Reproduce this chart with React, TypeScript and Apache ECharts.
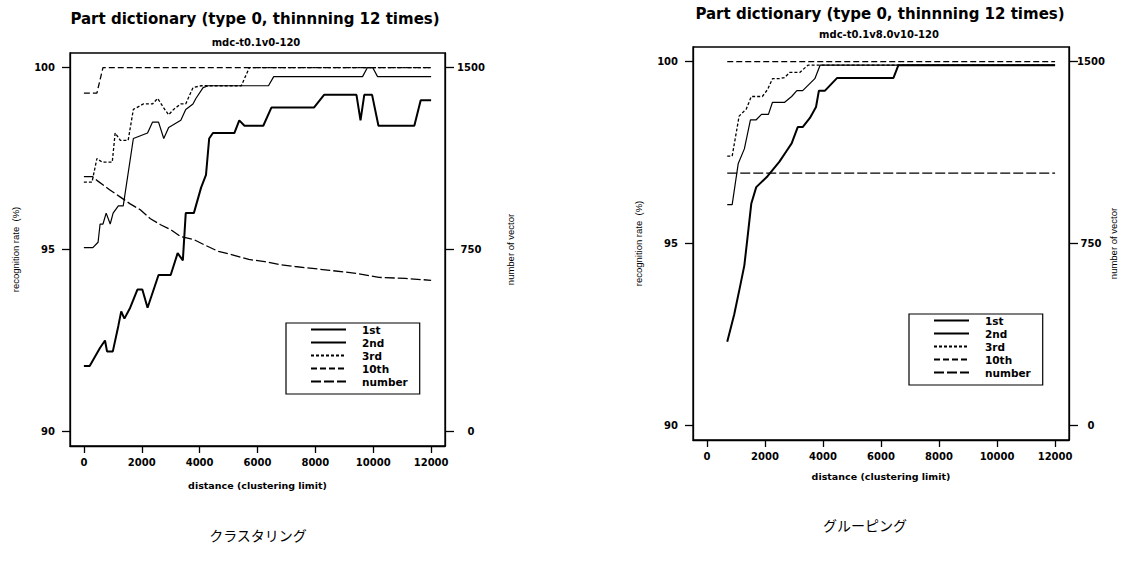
import React, { useEffect, useRef } from "react";
import * as echarts from "echarts";

// ---------- tick values ----------
const X_TICKS = [0, 2000, 4000, 6000, 8000, 10000, 12000];
const RATE_TICKS = [90, 95, 100];
const COUNT_TICKS = [0, 750, 1500];
const LEGEND_NAMES = ["1st", "2nd", "3rd", "10th", "number"];

// ---------- left chart: clustering (mdc-t0.1v0-120) ----------
const clus1st: [number, number][] = [
  [0, 91.8], [200, 91.8], [560, 92.3], [730, 92.5], [800, 92.2], [1000, 92.2],
  [1190, 92.9], [1290, 93.3], [1400, 93.1], [1600, 93.4], [1850, 93.9], [2020, 93.9],
  [2200, 93.4], [2580, 94.3], [3000, 94.3], [3240, 94.9], [3420, 94.7], [3520, 96.0],
  [3800, 96.0], [4050, 96.7], [4220, 97.05], [4330, 98.05], [4460, 98.2], [5200, 98.2],
  [5370, 98.55], [5550, 98.4], [6200, 98.4], [6480, 98.9], [7950, 98.9], [8300, 99.25],
  [9420, 99.25], [9560, 98.55], [9690, 99.25], [9960, 99.25], [10180, 98.4], [11420, 98.4],
  [11640, 99.1], [12000, 99.1],
];
const clus2nd: [number, number][] = [
  [0, 95.05], [310, 95.05], [490, 95.2], [560, 95.7], [660, 95.7], [770, 96.0],
  [910, 95.7], [1010, 96.0], [1190, 96.2], [1360, 96.2], [1710, 98.05], [2200, 98.2],
  [2370, 98.5], [2580, 98.5], [2760, 98.05], [2930, 98.35], [3350, 98.55], [3520, 98.85],
  [3770, 99.0], [3870, 99.15], [4120, 99.45], [4300, 99.5], [6380, 99.5], [6560, 99.75],
  [9630, 99.75], [9800, 100], [9980, 100], [10150, 99.75], [12000, 99.75],
];
const clus3rd: [number, number][] = [
  [0, 96.85], [280, 96.85], [450, 97.5], [630, 97.4], [980, 97.4], [1080, 98.2],
  [1260, 98.0], [1530, 98.0], [1710, 98.85], [2060, 99.0], [2370, 99.0], [2550, 99.15],
  [2750, 98.9], [2930, 98.7], [3100, 98.85], [3350, 99.0], [3520, 99.0], [3770, 99.45],
  [4050, 99.5], [5440, 99.5], [5720, 100], [12000, 100],
];
const clus10th: [number, number][] = [
  [0, 99.3], [450, 99.3], [660, 100], [12000, 100],
];
const clusNumber: [number, number][] = [
  [0, 1050], [300, 1050], [450, 1035], [900, 995], [1250, 967], [1600, 938],
  [1950, 914], [2300, 877], [2650, 852], [3000, 832], [3350, 803], [3800, 791],
  [4150, 770], [4650, 742], [5100, 729], [5700, 709], [6250, 700], [6750, 688],
  [7300, 680], [7900, 672], [8500, 664], [9400, 652], [10200, 635], [11100, 631],
  [12000, 623],
];

// ---------- right chart: grouping (mdc-t0.1v8.0v10-120) ----------
const grp1st: [number, number][] = [
  [700, 92.3], [940, 93.05], [1150, 93.85], [1290, 94.4], [1390, 95.1], [1530, 96.1],
  [1700, 96.55], [2090, 96.85], [2500, 97.25], [2750, 97.55], [2920, 97.75], [3130, 98.2],
  [3300, 98.2], [3550, 98.45], [3760, 98.75], [3860, 99.2], [4070, 99.2], [4490, 99.55],
  [6430, 99.55], [6600, 99.9], [12000, 99.9],
];
const grp2nd: [number, number][] = [
  [700, 96.07], [870, 96.07], [1080, 97.2], [1290, 97.6], [1500, 98.4], [1700, 98.4],
  [1880, 98.55], [2120, 98.55], [2260, 98.88], [2680, 98.88], [2920, 99.04], [3100, 99.2],
  [3300, 99.2], [3720, 99.53], [3900, 99.9], [12000, 99.9],
];
const grp3rd: [number, number][] = [
  [700, 97.4], [870, 97.4], [1110, 98.5], [1360, 98.7], [1530, 99.04], [1910, 99.04],
  [2090, 99.23], [2260, 99.53], [2500, 99.53], [2680, 99.56], [2850, 99.7], [3200, 99.7],
  [3480, 99.9], [12000, 99.9],
];
const grp10th: [number, number][] = [[700, 100], [12000, 100]];
const grpNumber: [number, number][] = [[700, 1040], [12000, 1040]];

const FONT = "DejaVu Sans";

const LINE_STYLES: Record<string, any> = {
  "1st": { width: 2, type: "solid" },
  "2nd": { width: 1.2, type: "solid" },
  "3rd": { width: 1.3, type: [3, 2] },
  "10th": { width: 1.3, type: [6, 3] },
  number: { width: 1.3, type: [10, 3] },
};

function makeSeries(
  name: string,
  data: [number, number][],
  xAxisIndex: number,
  yAxisIndex: number
) {
  return {
    type: "line",
    name,
    data,
    xAxisIndex,
    yAxisIndex,
    symbol: "none",
    showSymbol: false,
    lineStyle: { color: "#000", ...LINE_STYLES[name] },
    itemStyle: { color: "#000" },
    emphasis: { disabled: true },
  };
}

const plain = (v: number) => String(v);
const tickText = { fontFamily: FONT, fontWeight: "bold", fontSize: 10, color: "#000", formatter: plain };
const axisLineStyle = { color: "#000", width: 1.3 };

function makeXAxis(gridIndex: number, nameGap: number) {
  return {
    gridIndex,
    type: "value",
    min: -480,
    max: 12480,
    axisLine: { show: true, onZero: false, lineStyle: axisLineStyle },
    axisTick: { show: true, customValues: X_TICKS, length: 7, lineStyle: axisLineStyle },
    axisLabel: { customValues: X_TICKS, margin: 11, ...tickText },
    splitLine: { show: false },
    name: "distance (clustering limit)",
    nameLocation: "middle",
    nameGap,
    nameTextStyle: { fontFamily: FONT, fontWeight: "bold", fontSize: 9.5, color: "#000" },
  };
}

function makeRateAxis(gridIndex: number) {
  return {
    gridIndex,
    type: "value",
    position: "left",
    min: 89.6,
    max: 100.4,
    axisLine: { show: true, onZero: false, lineStyle: axisLineStyle },
    axisTick: { show: true, customValues: RATE_TICKS, length: 8, lineStyle: axisLineStyle },
    axisLabel: { customValues: RATE_TICKS, margin: 15, ...tickText },
    splitLine: { show: false },
    name: "recognition rate  (%)",
    nameLocation: "middle",
    nameRotate: 90,
    nameGap: 50,
    nameTextStyle: { fontFamily: "Liberation Sans", fontSize: 9.5, color: "#000" },
  };
}

function makeCountAxis(gridIndex: number, labelMargin: number, nameGap: number) {
  return {
    gridIndex,
    type: "value",
    position: "right",
    min: -60,
    max: 1560,
    axisLine: { show: true, onZero: false, lineStyle: axisLineStyle },
    axisTick: { show: true, customValues: COUNT_TICKS, length: 9, lineStyle: axisLineStyle },
    axisLabel: { customValues: COUNT_TICKS, margin: labelMargin, align: "center", ...tickText },
    splitLine: { show: false },
    name: "number of vector",
    nameLocation: "middle",
    nameRotate: 90,
    nameGap,
    nameTextStyle: { fontFamily: "Liberation Sans", fontSize: 9.5, color: "#000" },
  };
}

function makeLegend(left: number, top: number) {
  return {
    orient: "vertical",
    left,
    top,
    data: LEGEND_NAMES,
    itemWidth: 35,
    itemHeight: 9,
    itemGap: 2,
    padding: [1, 12, 7, 24],
    borderColor: "#000",
    borderWidth: 1.2,
    selectedMode: false,
    itemStyle: { color: "rgba(0,0,0,0)", borderWidth: 0, opacity: 0 },
    textStyle: {
      fontFamily: FONT,
      fontWeight: "bold",
      fontSize: 10.5,
      color: "#000",
      lineHeight: 9,
      padding: [0, 0, 0, 11],
    },
  };
}

export default function App() {
  const ref = useRef<HTMLDivElement>(null);

  useEffect(() => {
    if (!ref.current) return;
    const chart = echarts.init(ref.current, null, { renderer: "svg" });
    const titleStyle = { fontFamily: FONT, fontWeight: "bold", fontSize: 15, color: "#000" };
    const subStyle = { fontFamily: FONT, fontWeight: "bold", fontSize: 10, color: "#000" };
    chart.setOption({
      animation: false,
      backgroundColor: "#fff",
      title: [
        { text: "Part dictionary (type 0, thinnning 12 times)", left: 255, top: 11, textAlign: "center", padding: 0, textStyle: titleStyle },
        { text: "mdc-t0.1v0-120", left: 256, top: 37, textAlign: "center", padding: 0, textStyle: subStyle },
        { text: "Part dictionary (type 0, thinnning 12 times)", left: 880, top: 6, textAlign: "center", padding: 0, textStyle: titleStyle },
        { text: "mdc-t0.1v8.0v10-120", left: 879, top: 29, textAlign: "center", padding: 0, textStyle: subStyle },
      ],
      grid: [
        { left: 70, top: 53, width: 375, height: 393, show: true, borderColor: "#000", borderWidth: 1.3, containLabel: false },
        { left: 693, top: 47, width: 376, height: 393, show: true, borderColor: "#000", borderWidth: 1.3, containLabel: false },
      ],
      xAxis: [makeXAxis(0, 34), makeXAxis(1, 31)],
      yAxis: [
        makeRateAxis(0),
        makeCountAxis(0, 26, 60),
        makeRateAxis(1),
        makeCountAxis(1, 22, 37),
      ],
      legend: [makeLegend(286, 323), makeLegend(909, 314)],
      series: [
        makeSeries("1st", clus1st, 0, 0),
        makeSeries("2nd", clus2nd, 0, 0),
        makeSeries("3rd", clus3rd, 0, 0),
        makeSeries("10th", clus10th, 0, 0),
        makeSeries("number", clusNumber, 0, 1),
        makeSeries("1st", grp1st, 1, 2),
        makeSeries("2nd", grp2nd, 1, 2),
        makeSeries("3rd", grp3rd, 1, 2),
        makeSeries("10th", grp10th, 1, 2),
        makeSeries("number", grpNumber, 1, 3),
      ],
      graphic: [
        {
          type: "text",
          x: 258,
          y: 535,
          style: { text: "クラスタリング", fontFamily: "Noto Sans CJK JP", fontSize: 14, fill: "#000", textAlign: "center", textVerticalAlign: "middle" },
        },
        {
          type: "text",
          x: 865,
          y: 525,
          style: { text: "グルーピング", fontFamily: "Noto Sans CJK JP", fontSize: 14, fill: "#000", textAlign: "center", textVerticalAlign: "middle" },
        },
      ],
    });
    return () => chart.dispose();
  }, []);

  return (
    <div
      ref={ref}
      style={{ position: "absolute", left: 0, top: 0, width: 1127, height: 566, background: "#fff" }}
    />
  );
}
